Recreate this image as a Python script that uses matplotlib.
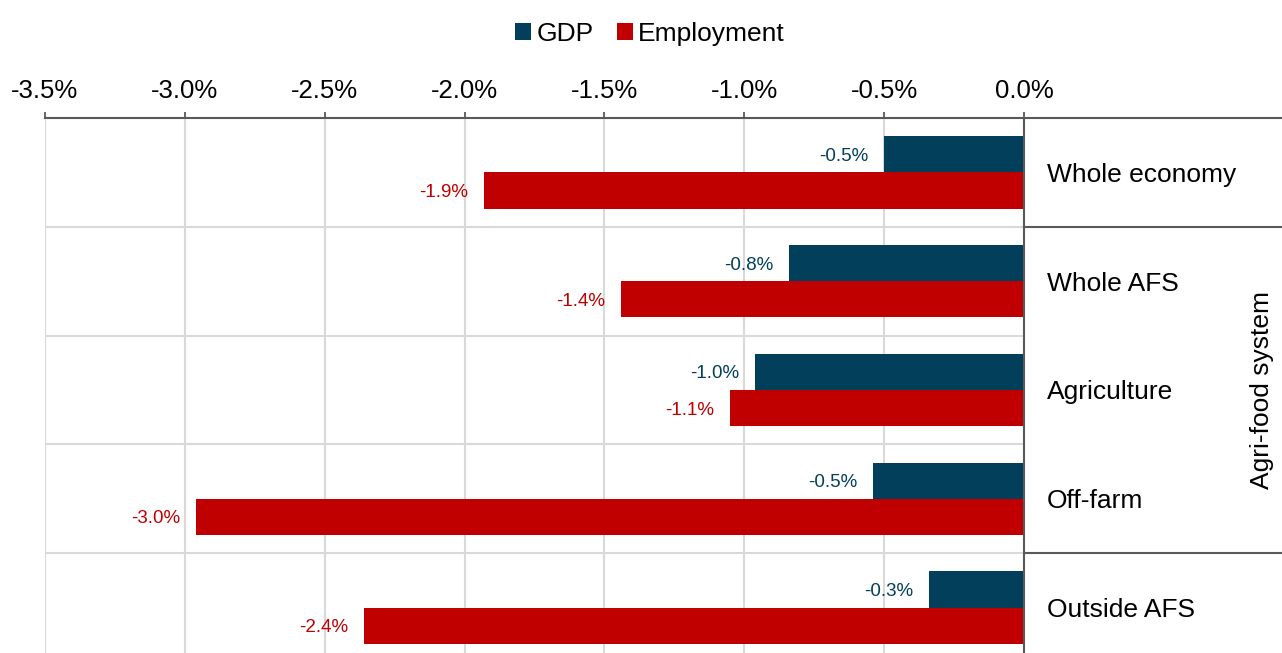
import matplotlib
matplotlib.use("Agg")
import matplotlib.pyplot as plt
from matplotlib.patches import Patch
from matplotlib.lines import Line2D
import matplotlib.transforms as mtransforms

plt.rcParams['font.family'] = ['Liberation Sans', 'DejaVu Sans']

categories = ["Whole economy", "Whole AFS", "Agriculture", "Off-farm", "Outside AFS"]
gdp = [-0.50, -0.84, -0.96, -0.54, -0.34]
employment = [-1.93, -1.44, -1.05, -2.96, -2.36]
series_names = ["GDP", "Employment"]
group_label = "Agri-food system"
xticks = [-3.5, -3.0, -2.5, -2.0, -1.5, -1.0, -0.5, 0.0]

GDP_COLOR = "#023F5B"
EMP_COLOR = "#C00000"
GRID_COLOR = "#D9D9D9"
AXIS_COLOR = "#595959"

W, H = 1282, 653
fig = plt.figure(figsize=(W / 100, H / 100), dpi=100)

left_px, right_px, top_px, bottom_px = 45, 1024, 118, 662
ax = fig.add_axes([left_px / W, 1 - bottom_px / H,
                   (right_px - left_px) / W, (bottom_px - top_px) / H])

n = len(categories)
bar_h = 1 / 3
centers = [i + 0.5 for i in range(n)]
ax.barh([c - bar_h / 2 for c in centers], gdp, height=bar_h, color=GDP_COLOR, zorder=3)
ax.barh([c + bar_h / 2 for c in centers], employment, height=bar_h, color=EMP_COLOR, zorder=3)

for c, g, e in zip(centers, gdp, employment):
    ax.annotate(f"{g:.1f}%", (g, c - bar_h / 2), xytext=(-11.5, 0), textcoords="offset points",
                ha="right", va="center_baseline", fontsize=13.5, color=GDP_COLOR)
    ax.annotate(f"{e:.1f}%", (e, c + bar_h / 2), xytext=(-11.5, 0), textcoords="offset points",
                ha="right", va="center_baseline", fontsize=13.5, color=EMP_COLOR)

ax.set_xlim(-3.5, 0)
ax.set_ylim(n, 0)
ax.set_xticks(xticks)
ax.set_xticklabels([f"{t:.1f}%" for t in xticks], fontsize=18.5)
ax.xaxis.tick_top()
ax.tick_params(axis="x", direction="out", length=4.5, width=1.3, color=AXIS_COLOR, pad=6)
ax.set_yticks([])

ax.grid(axis="x", color=GRID_COLOR, linewidth=1.5, zorder=0)
for b in range(1, n):
    ax.axhline(b, color=GRID_COLOR, linewidth=1.5, zorder=0)

for side in ("left", "bottom"):
    ax.spines[side].set_visible(False)
for side in ("top", "right"):
    ax.spines[side].set_color(AXIS_COLOR)
    ax.spines[side].set_linewidth(1.5)
    ax.spines[side].set_zorder(4)

# right-hand label panel: separators and category names
blend = mtransforms.blended_transform_factory(fig.transFigure, ax.transData)
for yb in (0, 1, 4):
    fig.add_artist(Line2D([right_px / W, 1], [yb, yb], transform=blend,
                          color=AXIS_COLOR, linewidth=1.5))
for c, name in zip(centers, categories):
    fig.text(1047 / W, c, name, transform=blend, ha="left", va="center_baseline", fontsize=19)
fig.text(1262 / W, 2.5, group_label, transform=blend, ha="center", va="center",
         rotation=90, fontsize=19)

handles = [Patch(facecolor=GDP_COLOR), Patch(facecolor=EMP_COLOR)]
fig.legend(handles, series_names, loc="center", bbox_to_anchor=(650 / W, 1 - 34 / H),
           ncol=2, frameon=False, fontsize=19, handlelength=0.6, handleheight=0.6,
           handletextpad=0.2, columnspacing=0.9, borderaxespad=0)

fig.savefig("out.png", dpi=100)
